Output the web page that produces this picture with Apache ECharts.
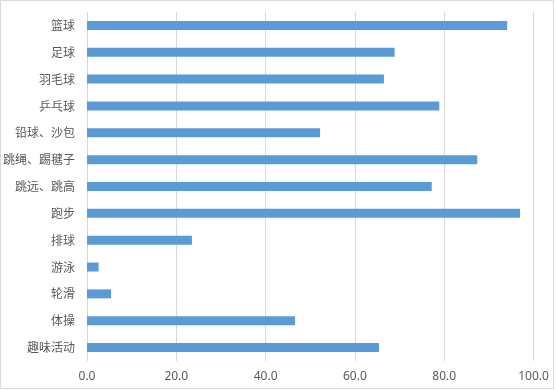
<!DOCTYPE html>
<html><head><meta charset="utf-8">
<script src="https://cdn.jsdelivr.net/npm/echarts@6/dist/echarts.min.js"></script>
<style>html,body{margin:0;padding:0;background:#fff}#c{width:556px;height:390px}</style>
</head><body><div id="c"></div>
<script>
var categories = ["篮球","足球","羽毛球","乒乓球","铅球、沙包","跳绳、踢毽子","跳远、跳高","跑步","排球","游泳","轮滑","体操","趣味活动"];
var values = [94.1,68.9,66.5,78.9,52.2,87.4,77.2,97.0,23.5,2.6,5.4,46.6,65.4];
var xTicks = {min:0,max:100,interval:20};

var chart = echarts.init(document.getElementById('c'), null, {renderer:'canvas'});
chart.setOption({
  animation:false,
  graphic:[{type:'rect',shape:{x:0.5,y:0.5,width:553,height:388},style:{fill:'none',stroke:'#d9d9d9',lineWidth:1},silent:true}],
  grid:{left:84.5,right:22.5,top:12,bottom:29,containLabel:false},
  xAxis:{type:'value',min:xTicks.min,max:xTicks.max,interval:xTicks.interval,
    axisLine:{show:false},axisTick:{show:false},
    splitLine:{lineStyle:{color:'#d9d9d9',width:1}},
    axisLabel:{color:'#595959',fontSize:12,fontFamily:'"Noto Sans","DejaVu Sans",sans-serif',margin:10,
      formatter:function(v){return v.toFixed(1);}}},
  yAxis:{type:'category',data:categories,inverse:true,
    axisLine:{show:false},axisTick:{show:false},
    axisLabel:{color:'#595959',fontSize:12,fontFamily:'"Noto Sans CJK SC",sans-serif',margin:12}},
  series:[{type:'bar',data:values,barWidth:9,itemStyle:{color:'#5b9bd5'}}]
});
</script></body></html>
